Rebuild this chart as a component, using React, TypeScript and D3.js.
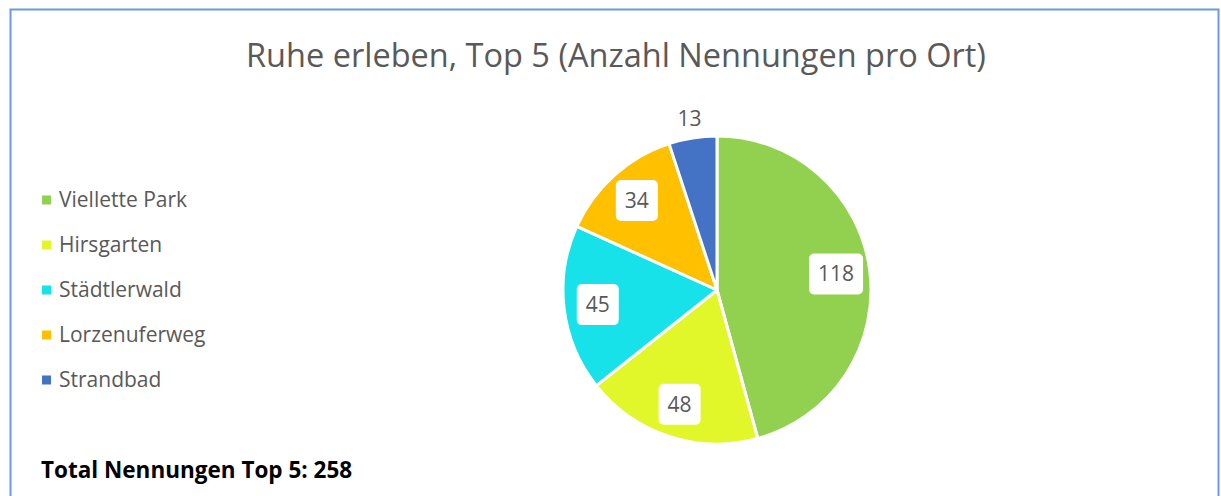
import React, { useRef, useEffect } from 'react';
import * as d3 from 'd3';

const places: string[] = ['Viellette Park', 'Hirsgarten', 'Städtlerwald', 'Lorzenuferweg', 'Strandbad'];
const counts: number[] = [118, 48, 45, 34, 13];
const colors: string[] = ['#92d050', '#e2f72a', '#17e1e9', '#ffc000', '#4472c4'];
const titleText = 'Ruhe erleben, Top 5 (Anzahl Nennungen pro Ort)';
const totalText = 'Total Nennungen Top 5: 258';

const App: React.FC = () => {
  const svgRef = useRef<SVGSVGElement | null>(null);

  useEffect(() => {
    if (!svgRef.current) return;
    const width = 1221;
    const height = 496;
    const cx = 717;
    const cy = 290;
    const r = 154;
    const font = "'Open Sans', 'Noto Sans', sans-serif";

    const svg = d3.select(svgRef.current).attr('width', width).attr('height', height);
    svg.selectAll('*').remove();

    svg.append('rect').attr('width', width).attr('height', height).attr('fill', '#fff');
    // chart frame
    svg.append('rect')
      .attr('x', 10.5).attr('y', 9.5)
      .attr('width', 1208).attr('height', 520)
      .attr('fill', 'none').attr('stroke', '#6a9ae0').attr('stroke-width', 2);

    svg.append('text')
      .attr('x', 616).attr('y', 67)
      .attr('text-anchor', 'middle')
      .attr('font-family', font).attr('font-size', 32.5)
      .attr('fill', '#595959')
      .text(titleText);

    // pie
    const pie = d3.pie<number>().sort(null).value(d => d);
    const arcs = pie(counts);
    const arc = d3.arc<d3.PieArcDatum<number>>().innerRadius(0).outerRadius(r);
    const labelArc = d3.arc<d3.PieArcDatum<number>>().innerRadius(r * 0.78).outerRadius(r * 0.78);
    const outArc = d3.arc<d3.PieArcDatum<number>>().innerRadius(r + 20).outerRadius(r + 20);

    const g = svg.append('g').attr('transform', `translate(${cx},${cy})`);
    g.selectAll('path')
      .data(arcs)
      .join('path')
      .attr('d', arc)
      .attr('fill', (_d, i) => colors[i])
      .attr('stroke', '#fff')
      .attr('stroke-width', 3)
      .attr('stroke-linejoin', 'round');

    arcs.forEach((a) => {
      const small = a.value < 20;
      const [lx, ly] = small ? outArc.centroid(a) : labelArc.centroid(a);
      const lg = g.append('g').attr('transform', `translate(${lx},${ly})`);
      const bg = lg.append('rect');
      const t = lg.append('text')
        .attr('text-anchor', 'middle')
        .attr('dy', '0.35em')
        .attr('font-family', font).attr('font-size', 21)
        .attr('fill', '#595959')
        .text(String(a.value));
      if (!small) {
        const w = (t.node() as SVGTextElement).getComputedTextLength() + 18;
        const h = 41;
        bg.attr('x', -w / 2).attr('y', -h / 2).attr('width', w).attr('height', h)
          .attr('rx', 5).attr('fill', '#fff');
      }
    });

    // legend
    const legend = svg.append('g');
    places.forEach((p, i) => {
      const y = 200 + i * 45;
      legend.append('rect')
        .attr('x', 42).attr('y', y - 4.5).attr('width', 9).attr('height', 9)
        .attr('fill', colors[i]);
      legend.append('text')
        .attr('x', 59).attr('y', y).attr('dy', '0.35em')
        .attr('font-family', font).attr('font-size', 21)
        .attr('fill', '#595959')
        .text(p);
    });

    svg.append('text')
      .attr('x', 41).attr('y', 478)
      .attr('font-family', font).attr('font-size', 22.5).attr('font-weight', 'bold')
      .attr('fill', '#000')
      .text(totalText);
  }, []);

  return <svg ref={svgRef} style={{ position: 'absolute', left: 0, top: 0 }}></svg>;
};

export default App;
